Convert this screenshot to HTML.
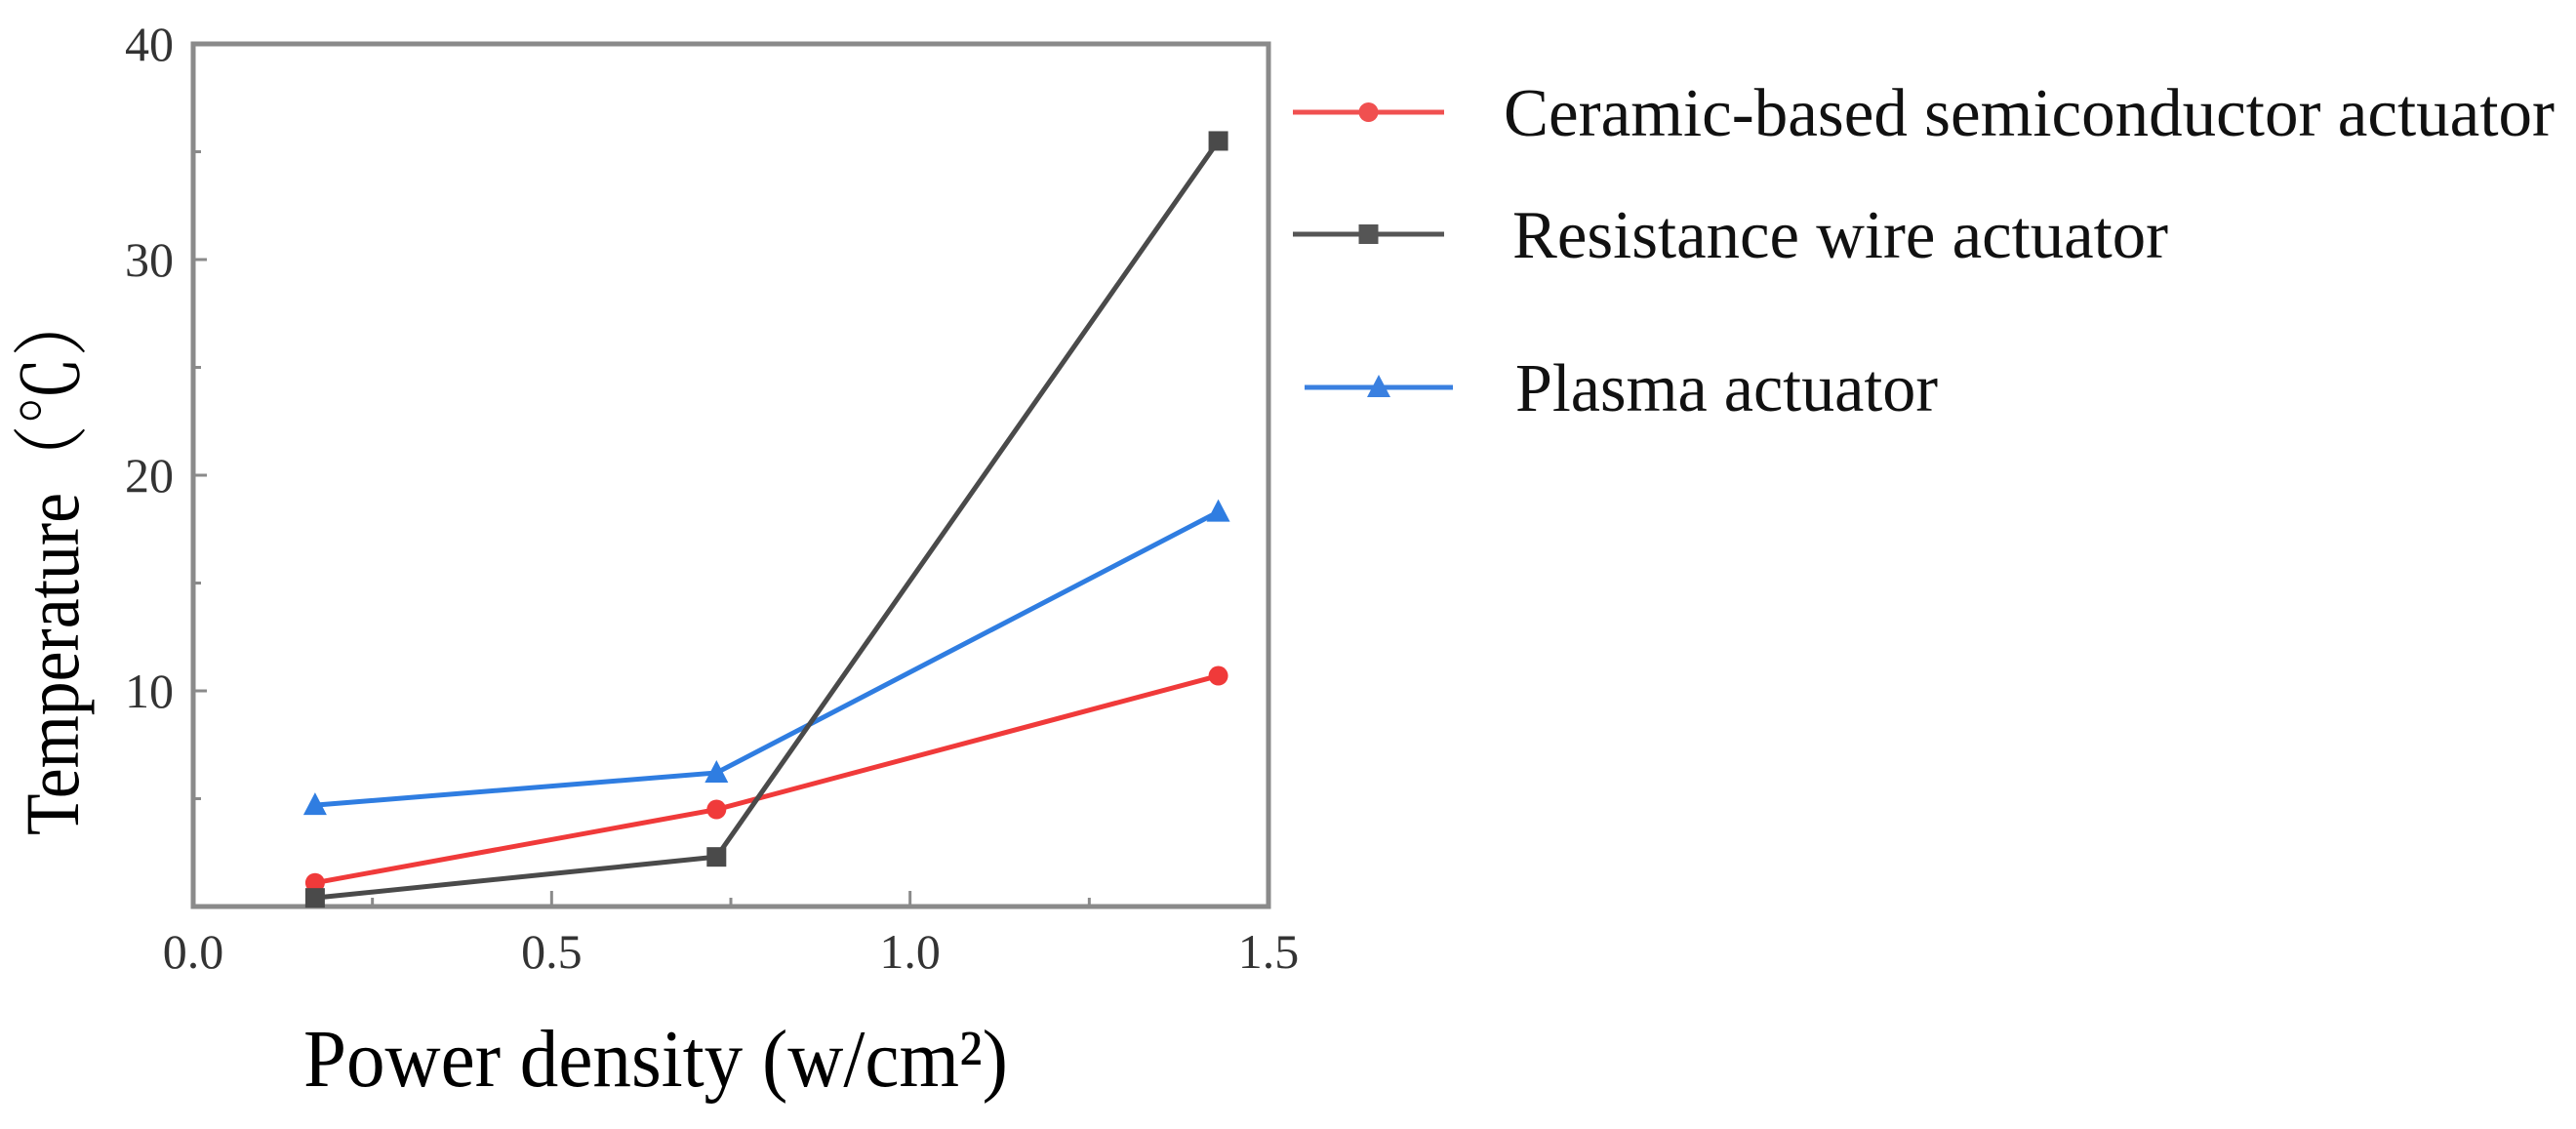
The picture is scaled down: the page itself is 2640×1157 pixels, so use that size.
<!DOCTYPE html>
<html><head><meta charset="utf-8"><style>
html,body{margin:0;padding:0;background:#fff;}
svg{display:block;}
text{font-family:"Liberation Serif","Noto Serif CJK SC",serif;}
</style></head><body>
<svg id="chart" width="2640" height="1157" xmlns="http://www.w3.org/2000/svg">
<g id="axes"></g>
<g id="series"></g>
<g id="legend"></g>
<text x="311" y="1113" font-size="84" textLength="722" lengthAdjust="spacingAndGlyphs" fill="#000">Power density (w/cm²)</text>
<text transform="translate(80,856) rotate(-90)" x="0" y="0" font-size="78" textLength="560" lengthAdjust="spacingAndGlyphs" fill="#000">Temperature（℃）</text>
</svg>
<script>
const xValues = [0.17, 0.73, 1.43];
const ceramicValues = [1.1, 4.5, 10.7];
const resistanceValues = [0.4, 2.3, 35.5];
const plasmaValues = [4.7, 6.2, 18.3];
const xTicks = [0.0, 0.5, 1.0, 1.5];
const xTickLabels = ["0.0", "0.5", "1.0", "1.5"];
const yTicks = [10, 20, 30, 40];
const yTickLabels = ["10", "20", "30", "40"];
const seriesNames = ["Ceramic-based semiconductor actuator", "Resistance wire actuator", "Plasma actuator"];

const NS = "http://www.w3.org/2000/svg";
const L = 198, R = 1300, T = 45, B = 929;
const xs = v => L + (v / 1.5) * (1300 - 198);
const ys = v => B - (v / 40) * (B - T);
function mk(tag, attrs, parent) {
  const e = document.createElementNS(NS, tag);
  for (const k in attrs) e.setAttribute(k, attrs[k]);
  parent.appendChild(e);
  return e;
}
const axes = document.getElementById('axes');
const frame = mk('rect', {x: L, y: T, width: R - L, height: B - T, fill: 'none', stroke: '#8a8a8a', 'stroke-width': 5}, axes);


xTicks.forEach((v, i) => {
  const t = mk('line', {x1: xs(v), x2: xs(v), y1: B, y2: B - 16, stroke: '#8a8a8a', 'stroke-width': 3}, axes);
  
  
  const lb = mk('text', {x: xs(v), y: 992, 'font-size': 50, 'text-anchor': 'middle', fill: '#333'}, axes);
  lb.textContent = xTickLabels[i];
  
  
  if (i < xTicks.length - 1) {
    const m = mk('line', {x1: xs(v + 0.25), x2: xs(v + 0.25), y1: B, y2: B - 9, stroke: '#8a8a8a', 'stroke-width': 3}, axes);
    
    
  }
});
yTicks.forEach((v, i) => {
  const t = mk('line', {x1: L, x2: L + 14, y1: ys(v), y2: ys(v), stroke: '#8a8a8a', 'stroke-width': 3}, axes);
  
  
  const m = mk('line', {x1: L, x2: L + 8, y1: ys(v - 5), y2: ys(v - 5), stroke: '#8a8a8a', 'stroke-width': 3}, axes);
  
  
  const lb = mk('text', {x: 178, y: ys(v) + 17, 'font-size': 50, 'text-anchor': 'end', fill: '#333'}, axes);
  lb.textContent = yTickLabels[i];
  
  
});

const series = document.getElementById('series');
function marker(type, cx, cy, color, parent, name) {
  let e;
  if (type === 'circle') e = mk('circle', {cx, cy, r: 10, fill: color}, parent);
  else if (type === 'square') e = mk('rect', {x: cx - 10, y: cy - 10, width: 20, height: 20, fill: color}, parent);
  else e = mk('polygon', {points: `${cx},${cy - 13} ${cx - 12},${cy + 10} ${cx + 12},${cy + 10}`, fill: color}, parent);
  
  
}
function drawSeries(vals, color, type, name) {
  const pts = vals.map((v, i) => `${xs(xValues[i])},${ys(v)}`).join(' ');
  const pl = mk('polyline', {points: pts, fill: 'none', stroke: color, 'stroke-width': 5}, series);
  
  
  vals.forEach((v, i) => marker(type, xs(xValues[i]), ys(v), color, series, name + '-point'));
}
drawSeries(plasmaValues, '#2f7de1', 'tri', 'plasma');
drawSeries(ceramicValues, '#f03a3a', 'circle', 'ceramic');
drawSeries(resistanceValues, '#4a4a4a', 'square', 'resistance');

const legend = document.getElementById('legend');
const legItems = [
  {y: 115, color: '#f05050', type: 'circle', x1: 1325, x2: 1480, tx: 1541, tw: 1077, name: 'legend-ceramic'},
  {y: 240, color: '#555', type: 'square', x1: 1325, x2: 1480, tx: 1550, tw: 672, name: 'legend-resistance'},
  {y: 397, color: '#3a80e0', type: 'tri', x1: 1337, x2: 1489, tx: 1553, tw: 433, name: 'legend-plasma'}
];
legItems.forEach((it, i) => {
  const g = mk('g', {}, legend);
  
  
  const ln = mk('line', {x1: it.x1, x2: it.x2, y1: it.y, y2: it.y, stroke: it.color, 'stroke-width': 5}, g);
  
  
  marker(it.type, (it.x1 + it.x2) / 2, it.y, it.color, g, 'legend-marker');
  const tx = mk('text', {x: it.tx, y: it.y + 24, 'font-size': 70, textLength: it.tw, lengthAdjust: 'spacingAndGlyphs', fill: '#111'}, g);
  tx.textContent = seriesNames[i];
  
  
});
</script>
</body></html>
